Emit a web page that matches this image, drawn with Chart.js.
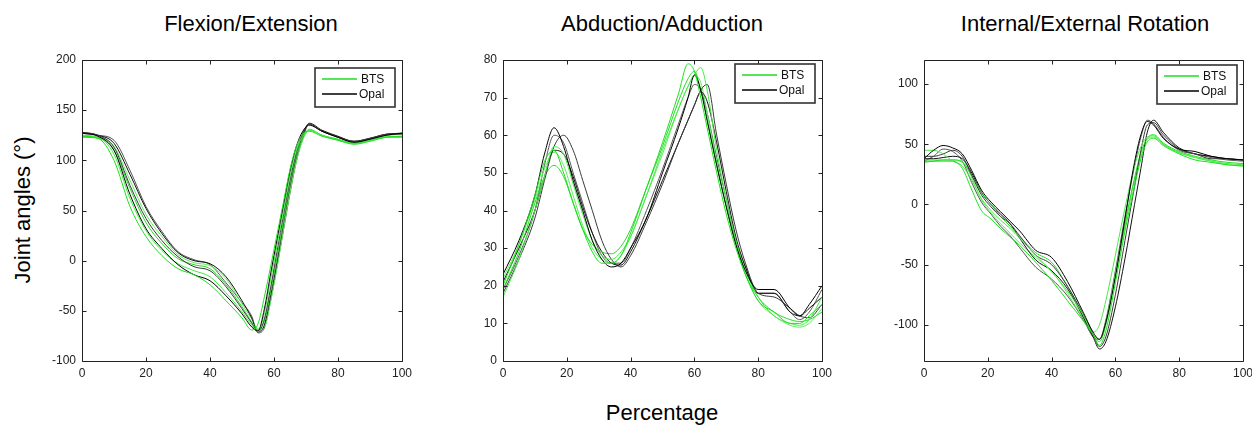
<!DOCTYPE html>
<html><head><meta charset="utf-8">
<script src="https://cdn.jsdelivr.net/npm/chart.js@4.4.1/dist/chart.umd.min.js"></script>
<style>
html,body{margin:0;padding:0;background:#fff;overflow:hidden;width:1252px;height:425px;}
.wrap{position:absolute;top:0;height:390px;}
.lbl{position:absolute;font-family:"Liberation Sans",Arial,sans-serif;font-size:22px;color:#000;white-space:nowrap;transform:translate(-50%,-50%);}
</style></head><body>
<div class="lbl" style="left:251px;top:24px;">Flexion/Extension</div>
<div class="lbl" style="left:662px;top:24px;">Abduction/Adduction</div>
<div class="lbl" style="left:1085px;top:24px;">Internal/External Rotation</div>
<div class="lbl" style="left:23px;top:210px;transform:translate(-50%,-50%) rotate(-90deg);">Joint angles (°)</div>
<div class="lbl" style="left:662px;top:413px;">Percentage</div>
<div class="wrap" style="left:32px;width:385px;"><canvas id="c1"></canvas></div>
<div class="wrap" style="left:453px;width:384px;"><canvas id="c2"></canvas></div>
<div class="wrap" style="left:874px;width:384px;"><canvas id="c3"></canvas></div>
<script>
// ---------- Data ----------
const legendLabels = ["BTS", "Opal"];
const xTicks = [0, 20, 40, 60, 80, 100];

// Flexion/Extension
const flexX = [0,5,10,15,20,25,30,35,40,45,50,53,55,57,59,61,63,65,67,69,71,75,80,85,90,95,100];
const flexYTicks = [-100,-50,0,50,100,150,200];
const flexBTS1 = [124,122,100,54,24,5,-8,-14,-24,-40,-57,-69,-63,-36,-5,27,59,91,114,126,129,124,120,116,119,123,124];
const flexBTS2 = [125,123,106,62,30,10,-3,-10,-16,-32,-51,-64,-71,-52,-18,16,50,84,110,124,130,125,120,117,120,123,124];
const flexBTS3 = [123,122,110,72,38,17,2,-4,-8,-24,-46,-61,-69,-60,-30,4,40,76,105,122,131,125,121,117,120,123,123];
const flexBTS4 = [124,123,114,80,46,24,6,-2,-5,-18,-43,-58,-68,-66,-40,-6,32,68,99,120,130,125,121,117,120,124,124];
const flexOpal1 = [127,124,110,66,32,12,-4,-14,-20,-35,-53,-66,-70,-48,-12,22,56,89,114,129,135,129,123,118,121,125,127];
const flexOpal2 = [128,125,113,75,42,20,4,-6,-10,-26,-48,-62,-71,-58,-26,10,46,80,108,127,136,129,123,119,122,126,127];
const flexOpal3 = [128,125,117,86,52,27,8,0,-3,-16,-40,-57,-71,-64,-34,0,38,74,104,125,137,130,124,119,122,126,127];
const flexOpal4 = [127,125,120,90,54,29,9,1,-4,-22,-42,-55,-72,-67,-39,-5,31,67,99,122,136,129,123,118,121,125,126];

// Abduction/Adduction
const abdX = [0,5,10,13,16,19,22,25,28,31,34,37,40,45,50,55,58,60,62,64,67,70,73,76,80,85,90,93,96,100];
const abdYTicks = [0,10,20,30,40,50,60,70,80];
const abdBTS1 = [20,31,44,53,56,50,42,35,29,26,26,28,34,46,58,71,79,77,70,62,50,39,30,23,16,13,10,10,12,15];
const abdBTS2 = [17,27,40,49,57,55,47,39,32,28,27,29,33,44,56,67,73,76,78,72,56,43,32,24,17,12,10,9.5,11,17];
const abdBTS3 = [19,29,42,49,52,49,42,35,31,29,28.5,30.5,35,46,57,69,75,77,72,64,52,41,31,23,17,13,11,10.5,11,13];
const abdBTS4 = [22,31,43,51,55.5,52,44,36,30,27,26,28,33,44,55,67,73,76,74,66,53,41,31,23,16,12,9.5,9,10,14];
const abdOpal1 = [23,32,44,55,62,57,48,40,32,27,25,26,30,38,50,62,70,76,72,64,52,41,31,24,19,19,14,12,15,20];
const abdOpal2 = [18,27,38,48,57,60,56,48,40,32,27,25,28,37,47,58,64,68,72,73.5,60,47,35,26,18,17,14,12,11.5,15];
const abdOpal3 = [21,30,40,49,56,55,49,41,34,29,26,25.5,29,38,48,58,64,68,71.5,69,58,45,33,25,18,18,13,12,14,17];
const abdOpal4 = [19,28,40,52,60,58,50,42,34,28,26,26,30,40,51,63,70,73.5,72,66,54,43,32,25,18,18,13,11,13,19];

// Internal/External Rotation
const rotX = [0,3,6,9,12,15,18,21,24,27,30,35,40,45,50,53,55,57,60,63,66,68,70,72,75,80,85,90,95,100];
const rotYTicks = [-100,-50,0,50,100];
const rotBTS1 = [36,36,36,36,30,12,-5,-12,-20,-27,-34,-48,-63,-80,-97,-108,-117,-105,-65,-22,15,38,52,55,49,42,37,35,33,32];
const rotBTS2 = [45,45,42,36,32,20,5,-5,-13,-20,-28,-42,-56,-72,-92,-106,-100,-80,-42,-3,32,48,56,57,50,43,39,36,34,33];
const rotBTS3 = [35,36,37,37,35,24,10,0,-10,-18,-27,-40,-48,-68,-92,-108,-114,-100,-60,-16,22,43,55,58,51,44,40,37,35,34];
const rotBTS4 = [37,37,37,37,36,22,4,-7,-16,-24,-32,-44,-55,-74,-95,-108,-112,-98,-58,-18,20,40,54,56,50,43,39,36,33,32];
const rotOpal1 = [38,45,49,47,42,28,12,2,-6,-14,-22,-38,-44,-64,-90,-106,-112,-98,-60,-12,35,58,69,66,55,46,44,40,38,37];
const rotOpal2 = [40,40,42,45,40,24,8,-2,-10,-16,-26,-42,-50,-68,-92,-108,-118,-110,-75,-30,15,45,66,68,58,46,42,38,38,37];
const rotOpal3 = [38,38,39,40,38,26,10,0,-8,-16,-28,-46,-55,-70,-94,-110,-120,-114,-85,-45,0,30,60,70,60,47,42,40,38,37];
const rotOpal4 = [36,40,46,44,36,18,2,-8,-18,-26,-36,-52,-62,-76,-96,-110,-112,-96,-55,-10,32,56,70,67,56,45,42,39,37,36];

// ---------- Chart setup ----------
Chart.defaults.font.family = '"Liberation Sans", Arial, sans-serif';
Chart.defaults.color = '#222';

const GREENS = ['rgb(25,225,25)', 'rgb(70,235,70)', 'rgb(40,215,40)', 'rgb(90,240,90)'];
const BLACKS = ['#000000', '#3a3a3a', '#111111', '#555555'];
const LEGEND_GREEN = '#22dd22';

function mk(xs, ys) { return ys.map((y, i) => ({x: xs[i], y: y})); }

function buildDatasets(xs, bts, opal) {
  const out = [];
  for (let i = 0; i < bts.length; i++) {
    out.push({label: legendLabels[0], data: mk(xs, bts[i]), borderColor: GREENS[i], borderWidth: 1, pointRadius: 0, cubicInterpolationMode: 'monotone'});
    out.push({label: legendLabels[1], data: mk(xs, opal[i]), borderColor: BLACKS[i], borderWidth: 1, pointRadius: 0, cubicInterpolationMode: 'monotone'});
  }
  return out;
}

function makeFramePlugin(dx, dy) {
  return {
    id: 'frame',
    afterDraw(chart) {
      const ctx = chart.ctx, a = chart.chartArea;
      const xs = chart.scales.x, ys = chart.scales.y;
      ctx.save();
      ctx.strokeStyle = '#222';
      ctx.lineWidth = 1;
      const L = Math.round(a.left) + 0.5, R = Math.round(a.right) + 0.5, T = Math.round(a.top) + 0.5, B = Math.round(a.bottom) + 0.5;
      ctx.beginPath();
      ctx.rect(L, T, R - L, B - T);
      const tl = 4;
      xs.ticks.forEach(t => {
        const p = Math.round(xs.getPixelForValue(t.value)) + 0.5;
        ctx.moveTo(p, B); ctx.lineTo(p, B - tl);
        ctx.moveTo(p, T); ctx.lineTo(p, T + tl);
      });
      ys.ticks.forEach(t => {
        const p = Math.round(ys.getPixelForValue(t.value)) + 0.5;
        ctx.moveTo(L, p); ctx.lineTo(L + tl, p);
        ctx.moveTo(R, p); ctx.lineTo(R - tl, p);
      });
      ctx.stroke();

      // legend box
      const bx = Math.round(a.right - dx), by = Math.round(a.top + dy), bw = 80, bh = 39;
      ctx.fillStyle = '#ffffff';
      ctx.fillRect(bx, by, bw, bh);
      ctx.strokeStyle = '#333333';
      ctx.lineWidth = 1.6;
      ctx.strokeRect(bx, by, bw, bh);
      ctx.lineWidth = 1.4;
      ctx.strokeStyle = LEGEND_GREEN;
      ctx.beginPath(); ctx.moveTo(bx + 7, by + 11); ctx.lineTo(bx + 42, by + 11); ctx.stroke();
      ctx.strokeStyle = '#000000';
      ctx.beginPath(); ctx.moveTo(bx + 7, by + 26); ctx.lineTo(bx + 42, by + 26); ctx.stroke();
      ctx.fillStyle = '#111111';
      ctx.font = '12px "Liberation Sans", Arial, sans-serif';
      ctx.textBaseline = 'middle';
      ctx.textAlign = 'left';
      ctx.fillText(legendLabels[0], bx + 46, by + 11.5);
      ctx.fillText(legendLabels[1], bx + 44, by + 27);
      ctx.restore();
    }
  };
}

function makeChart(id, xs, bts, opal, yMin, yMax, yTicks, dx, dy) {
  return new Chart(document.getElementById(id), {
    type: 'line',
    data: {datasets: buildDatasets(xs, bts, opal)},
    plugins: [makeFramePlugin(dx, dy)],
    options: {
      responsive: true,
      maintainAspectRatio: false,
      animation: false,
      devicePixelRatio: 1,
      layout: {padding: {left: 0, right: 14, top: 60, bottom: 4}},
      plugins: {
        legend: {display: false},
        tooltip: {enabled: false},
        title: {display: false}
      },
      scales: {
        x: {
          type: 'linear', min: 0, max: 100,
          grid: {display: false, drawTicks: false}, border: {display: false},
          ticks: {font: {size: 12}, padding: 5, maxRotation: 0, color: '#222'},
          afterBuildTicks: s => { s.ticks = xTicks.map(v => ({value: v})); },
          afterFit: s => { s.height = 25; }
        },
        y: {
          min: yMin, max: yMax,
          grid: {display: false, drawTicks: false}, border: {display: false},
          ticks: {font: {size: 12}, padding: 6, color: '#222'},
          afterBuildTicks: s => { s.ticks = yTicks.map(v => ({value: v})); },
          afterFit: s => { s.width = 50; }
        }
      }
    }
  });
}

makeChart('c1', flexX, [flexBTS1, flexBTS2, flexBTS3, flexBTS4], [flexOpal1, flexOpal2, flexOpal3, flexOpal4], -100, 200, flexYTicks, 87, 8);
makeChart('c2', abdX, [abdBTS1, abdBTS2, abdBTS3, abdBTS4], [abdOpal1, abdOpal2, abdOpal3, abdOpal4], 0, 80, abdYTicks, 87, 4);
makeChart('c3', rotX, [rotBTS1, rotBTS2, rotBTS3, rotBTS4], [rotOpal1, rotOpal2, rotOpal3, rotOpal4], -130, 120, rotYTicks, 86, 5);
</script>
</body></html>
